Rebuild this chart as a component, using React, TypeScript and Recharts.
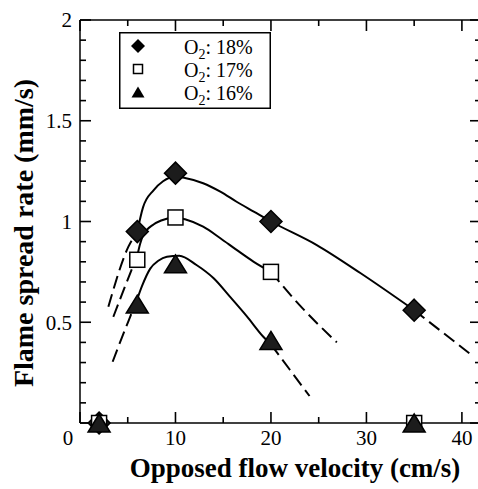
import React from 'react';
import { ComposedChart, Line, Scatter, XAxis, YAxis } from 'recharts';

// measured points (opposed flow velocity cm/s, spread rate mm/s)
const o2_18 = [
  { x: 2, y: 0 },
  { x: 6, y: 0.95 },
  { x: 10, y: 1.24 },
  { x: 20, y: 1.0 },
  { x: 35, y: 0.56 }
];
const o2_17 = [
  { x: 2, y: 0 },
  { x: 6, y: 0.81 },
  { x: 10, y: 1.02 },
  { x: 20, y: 0.75 },
  { x: 35, y: 0 }
];
const o2_16 = [
  { x: 2, y: 0 },
  { x: 6, y: 0.59 },
  { x: 10, y: 0.79 },
  { x: 20, y: 0.41 },
  { x: 35, y: 0 }
];

// fitted curves
const fit18 = [
  { x: 6, y: 0.95 }, { x: 6.6, y: 1.07 }, { x: 7.7, y: 1.155 }, { x: 8.7, y: 1.2 },
  { x: 10, y: 1.222 }, { x: 11, y: 1.216 }, { x: 12.9, y: 1.19 }, { x: 14.7, y: 1.148 },
  { x: 16.4, y: 1.098 }, { x: 18.2, y: 1.049 }, { x: 20, y: 1.0 }, { x: 24.8, y: 0.883 },
  { x: 29.4, y: 0.743 }, { x: 35, y: 0.56 }
];
const fit18Low = [{ x: 2.97, y: 0.577 }, { x: 5.07, y: 0.875 }, { x: 6, y: 0.95 }];
const fit18High = [{ x: 35, y: 0.56 }, { x: 40.8, y: 0.345 }];

const fit17 = [
  { x: 6, y: 0.83 }, { x: 6.3, y: 0.89 }, { x: 6.6, y: 0.93 }, { x: 7.7, y: 0.985 },
  { x: 8.5, y: 1.005 }, { x: 10, y: 1.02 }, { x: 11, y: 1.011 }, { x: 12.9, y: 0.974 },
  { x: 14.7, y: 0.917 }, { x: 16.4, y: 0.859 }, { x: 18.2, y: 0.8 }, { x: 20, y: 0.75 }
];
const fit17Low = [{ x: 3.49, y: 0.527 }, { x: 5.4, y: 0.76 }, { x: 6, y: 0.83 }];
const fit17High = [{ x: 20, y: 0.75 }, { x: 23, y: 0.585 }, { x: 26.9, y: 0.4 }];

const fit16 = [
  { x: 6, y: 0.615 }, { x: 6.5, y: 0.68 }, { x: 7.34, y: 0.765 }, { x: 8.2, y: 0.805 },
  { x: 9.1, y: 0.825 }, { x: 10.4, y: 0.83 }, { x: 12.2, y: 0.784 }, { x: 14, y: 0.718 },
  { x: 15.7, y: 0.627 }, { x: 17.5, y: 0.528 }, { x: 19.2, y: 0.428 }, { x: 20, y: 0.39 }
];
const fit16Low = [{ x: 3.42, y: 0.304 }, { x: 4.02, y: 0.379 }, { x: 5.4, y: 0.544 }, { x: 6, y: 0.615 }];
const fit16High = [{ x: 20, y: 0.39 }, { x: 22, y: 0.263 }, { x: 24.04, y: 0.134 }];

const xTicks = [0, 5, 10, 15, 20, 25, 30, 35, 40];
const yTicks = [0, 0.1, 0.2, 0.3, 0.4, 0.5, 0.6, 0.7, 0.8, 0.9, 1, 1.1, 1.2, 1.3, 1.4, 1.5, 1.6, 1.7, 1.8, 1.9, 2];
const xDomain = [0, 42];
const yDomain = [0, 2];
const legendLabels = ['18%', '17%', '16%'];
const xTitle = 'Opposed flow velocity (cm/s)';
const yTitle = 'Flame spread rate (mm/s)';

const FONT = "'Liberation Serif', 'Times New Roman', serif";
const INK = '#000';

const isMajorX = (v: number) => v % 10 === 0;
const isMajorY = (v: number) => Math.abs(v * 2 - Math.round(v * 2)) < 1e-6;

// tick marks on the frame, placed through the chart's own scales
const bottomMarks = xTicks.map((v) => ({ x: v, y: yDomain[0] }));
const topMarks = xTicks.map((v) => ({ x: v, y: yDomain[1] }));
const leftMarks = yTicks.map((v) => ({ x: xDomain[0], y: v }));
const rightMarks = yTicks.map((v) => ({ x: xDomain[1], y: v }));

const BottomMark = (p: any) => {
  const len = isMajorX(p.payload.x) ? 11 : 6;
  return <line x1={p.cx} x2={p.cx} y1={p.cy} y2={p.cy - len} stroke={INK} strokeWidth={1.6} />;
};
const TopMark = (p: any) => {
  const len = isMajorX(p.payload.x) ? 11 : 6;
  return <line x1={p.cx} x2={p.cx} y1={p.cy} y2={p.cy + len} stroke={INK} strokeWidth={1.6} />;
};
const LeftMark = (p: any) => {
  const len = isMajorY(p.payload.y) ? 11 : 6;
  return <line x1={p.cx} x2={p.cx + len} y1={p.cy} y2={p.cy} stroke={INK} strokeWidth={1.6} />;
};
const RightMark = (p: any) => {
  const len = isMajorY(p.payload.y) ? 11 : 6;
  return <line x1={p.cx} x2={p.cx - len} y1={p.cy} y2={p.cy} stroke={INK} strokeWidth={1.6} />;
};

const BottomTick = (props: any) => {
  const { x, y, payload } = props;
  const v = payload.value;
  if (!isMajorX(v)) return <g />;
  return (
    <text x={v === 0 ? x - 12 : x} y={y + 22} textAnchor='middle' fontFamily={FONT} fontSize={21} fill={INK}>
      {v}
    </text>
  );
};

const LeftTick = (props: any) => {
  const { x, y, payload } = props;
  const v = payload.value;
  if (!isMajorY(v) || v === 0) return <g />;
  return (
    <text x={x - 8} y={y} dy='0.35em' textAnchor='end' fontFamily={FONT} fontSize={21} fill={INK}>
      {v}
    </text>
  );
};

const diamond = (cx: number, cy: number, r: number) =>
  `M${cx},${cy - r}L${cx + r},${cy}L${cx},${cy + r}L${cx - r},${cy}Z`;
const triangle = (cx: number, cy: number, w: number, h: number) =>
  `M${cx},${cy - h / 2}L${cx + w / 2},${cy + h / 2}L${cx - w / 2},${cy + h / 2}Z`;

const DiamondDot = (p: any) => <path d={diamond(p.cx, p.cy, 11)} fill='#1c1c1c' stroke={INK} strokeWidth={1.5} />;
const SquareDot = (p: any) => (
  <rect x={p.cx - 7.5} y={p.cy - 7.5} width={15} height={15} fill='#fff' stroke={INK} strokeWidth={1.5} />
);
const TriangleDot = (p: any) => <path d={triangle(p.cx, p.cy, 22, 18)} fill='#1c1c1c' stroke={INK} strokeWidth={1.5} />;

// legend box and axis titles, laid over the chart
const Overlay = () => {
  const rows = [46, 69, 92];
  return (
    <svg width={478} height={489} style={{ position: 'absolute', left: 0, top: 0, pointerEvents: 'none' }}>
      <rect x={119.75} y={32.75} width={150.5} height={75.5} fill='#fff' stroke={INK} strokeWidth={1.5} />
      <path d={diamond(138, rows[0], 7)} fill={INK} />
      <rect x={133.5} y={rows[1] - 4.5} width={9} height={9} fill='#fff' stroke={INK} strokeWidth={1.5} />
      <path d={triangle(138, rows[2], 13, 11)} fill={INK} />
      {legendLabels.map((lab, i) => (
        <text key={lab} x={184} y={rows[i] + 7.5} fontFamily={FONT} fontSize={20} fill={INK}>
          O<tspan fontSize={14} dy={5}>2</tspan>
          <tspan dy={-5}>: {lab}</tspan>
        </text>
      ))}
      <text x={295} y={477} textAnchor='middle' fontFamily={FONT} fontWeight='bold' fontSize={27} fill={INK}>
        {xTitle}
      </text>
      <text x={33} y={233} transform='rotate(-90, 33, 233)' textAnchor='middle' fontFamily={FONT} fontWeight='bold' fontSize={28} fill={INK}>
        {yTitle}
      </text>
    </svg>
  );
};

const solid = { stroke: INK, strokeWidth: 2, dot: false, activeDot: false, isAnimationActive: false, type: 'monotone' as const, dataKey: 'y' };
const dashed = { ...solid, strokeDasharray: '13 6' };

const axisCommon = {
  type: 'number' as const,
  interval: 0,
  tickSize: 0,
  tickMargin: 0,
  tickLine: false,
  axisLine: { stroke: INK, strokeWidth: 1.5 }
};

export default function App() {
  return (
    <div style={{ position: 'absolute', left: 0, top: 0, width: 478, height: 489, overflow: 'hidden', background: '#fff' }}>
      <ComposedChart width={490} height={489} margin={{ top: 10, right: 0, bottom: 0, left: 0 }}>
        <XAxis {...axisCommon} dataKey='x' domain={xDomain} ticks={xTicks} height={66} tick={BottomTick} />
        <XAxis {...axisCommon} xAxisId='top' orientation='top' dataKey='x' domain={xDomain} ticks={xTicks} height={10} tick={false} />
        <YAxis {...axisCommon} domain={yDomain} ticks={yTicks} width={80} tick={LeftTick} />
        <YAxis {...axisCommon} yAxisId='right' orientation='right' domain={yDomain} ticks={yTicks} width={9} tick={false} />

        {/* invisible series so the mirrored top/right axes get drawn */}
        <Line data={o2_18} xAxisId='top' yAxisId='right' dataKey='y' stroke='none' dot={false} activeDot={false} legendType='none' isAnimationActive={false} />

        <Scatter data={bottomMarks} dataKey='y' shape={BottomMark} legendType='none' isAnimationActive={false} />
        <Scatter data={topMarks} dataKey='y' shape={TopMark} legendType='none' isAnimationActive={false} />
        <Scatter data={leftMarks} dataKey='y' shape={LeftMark} legendType='none' isAnimationActive={false} />
        <Scatter data={rightMarks} dataKey='y' shape={RightMark} legendType='none' isAnimationActive={false} />

        <Line data={fit18} {...solid} />
        <Line data={fit18Low} {...dashed} />
        <Line data={fit18High} {...dashed} />
        <Line data={fit17} {...solid} />
        <Line data={fit17Low} {...dashed} />
        <Line data={fit17High} {...dashed} />
        <Line data={fit16} {...solid} />
        <Line data={fit16Low} {...dashed} />
        <Line data={fit16High} {...dashed} />

        <Scatter data={o2_18} dataKey='y' shape={DiamondDot} isAnimationActive={false} />
        <Scatter data={o2_17} dataKey='y' shape={SquareDot} isAnimationActive={false} />
        <Scatter data={o2_16} dataKey='y' shape={TriangleDot} isAnimationActive={false} />
      </ComposedChart>
      <Overlay />
    </div>
  );
}
